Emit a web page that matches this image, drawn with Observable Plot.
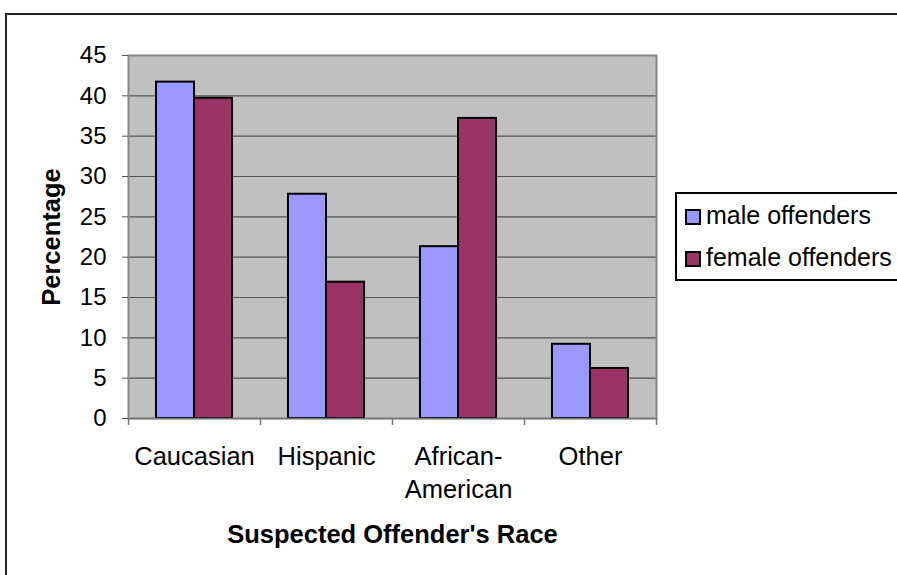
<!DOCTYPE html>
<html>
<head>
<meta charset="utf-8">
<script src="https://cdn.jsdelivr.net/npm/d3@7"></script>
<script src="https://cdn.jsdelivr.net/npm/@observablehq/plot@0.6"></script>
<style>
  html, body { margin: 0; padding: 0; background: #fff; overflow: hidden; }
  body { width: 897px; height: 575px; position: relative; font-family: "Liberation Sans", Arial, sans-serif; }
  #border { position: absolute; left: 5px; top: 13px; width: 1000px; height: 700px; border-left: 2px solid #222; border-top: 2px solid #222; }
  #chart { position: absolute; left: 0; top: 0; }
  #legend { position: absolute; left: 675px; top: 192px; width: 260px; height: 85px; border: 2px solid #000; background: #fff; }
  .item { position: absolute; left: 8px; height: 30px; display: flex; align-items: center; font-size: 25px; color: #000; white-space: nowrap; }
  .sw { width: 12px; height: 12px; border: 2px solid #000; margin-right: 5px; margin-top: 4px; }
</style>
</head>
<body>
<div id="border"></div>
<div id="chart"></div>
<div id="legend"></div>
<script>
const races = ["Caucasian", "Hispanic", "African-American", "Other"];
const seriesNames = ["male offenders", "female offenders"];
const maleValues = [41.7, 27.8, 21.3, 9.2];
const femaleValues = [39.7, 16.9, 37.2, 6.2];
const seriesColors = ["#9999FF", "#993366"];
const yTicks = [0, 5, 10, 15, 20, 25, 30, 35, 40, 45];

const male = races.map((r, i) => ({race: r, series: seriesNames[0], value: maleValues[i]}));
const female = races.map((r, i) => ({race: r, series: seriesNames[1], value: femaleValues[i]}));

const W = 897, H = 575;
const mL = 128, mR = 241, mT = 55, mB = 157;
const band = (W - mL - mR) / races.length;
const frameH = H - mT - mB;

const chart = Plot.plot({
  width: W,
  height: H,
  marginLeft: mL,
  marginRight: mR,
  marginTop: mT,
  marginBottom: mB,
  style: {fontFamily: "'Liberation Sans', Arial, sans-serif", background: "transparent", color: "#000"},
  x: {domain: races, padding: 0},
  y: {domain: [0, 45]},
  marks: [
    Plot.frame({fill: "#c0c0c0"}),
    Plot.gridY(yTicks, {stroke: "#555", strokeOpacity: 1, strokeWidth: 1.2}),
    Plot.frame({stroke: "#888", strokeWidth: 2}),
    Plot.barY(male, {x: "race", y: "value", fill: seriesColors[0], stroke: "#000", strokeWidth: 2,
      insetLeft: band * 0.212, insetRight: band * 0.5}),
    Plot.barY(female, {x: "race", y: "value", fill: seriesColors[1], stroke: "#000", strokeWidth: 2,
      insetLeft: band * 0.5, insetRight: band * 0.212}),
    Plot.ruleY([0], {stroke: "#777", strokeWidth: 1.5}),
    Plot.ruleX(races, {x: d => d, dx: -band / 2, stroke: "#777", strokeWidth: 1.5, insetTop: frameH, insetBottom: -7}),
    Plot.ruleX(races.slice(-1), {x: d => d, dx: band / 2, stroke: "#777", strokeWidth: 1.5, insetTop: frameH, insetBottom: -7}),
    Plot.axisY({ticks: yTicks, tickSize: 6, tickPadding: 16, fontSize: 24, label: null, stroke: "#555"}),
    Plot.axisX({tickSize: 0, tickPadding: 22, fontSize: 25.5, label: null, lineHeight: 1.33,
      tickFormat: d => d.replace("-", "-\n")}),
    Plot.text(["Suspected Offender's Race"], {frameAnchor: "bottom", dy: 124, fontSize: 25.5, fontWeight: "bold", fill: "#000"}),
    Plot.text(["Percentage"], {frameAnchor: "left", dx: -77, textAnchor: "middle", rotate: -90, fontSize: 25.5, fontWeight: "bold", fill: "#000"})
  ]
});
document.getElementById("chart").appendChild(chart);

const legend = document.getElementById("legend");
seriesNames.forEach((name, i) => {
  const item = document.createElement("div");
  item.className = "item";
  item.style.top = (6 + i * 42) + "px";
  const sw = document.createElement("div");
  sw.className = "sw";
  sw.style.background = seriesColors[i];
  const t = document.createElement("span");
  t.textContent = name;
  item.appendChild(sw);
  item.appendChild(t);
  legend.appendChild(item);
});
</script>
</body>
</html>
